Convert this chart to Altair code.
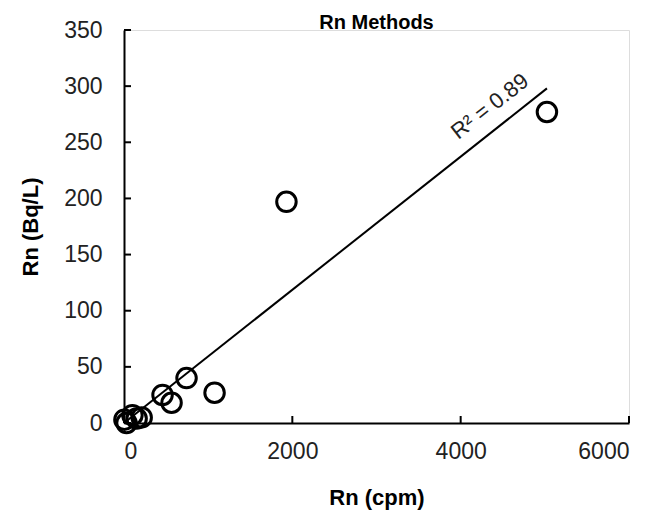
import altair as alt
import pandas as pd

# Data
cpm = [1930, 5025, 743, 458, 565, 1076, 5, 30, 100, 150, 210]
bql = [197, 277, 40, 25, 18, 27, 3, 0, 7, 4, 5]

trend_x = [0, 5025]
trend_y = [0, 298]

x_ticks = [0, 2000, 4000, 6000]
y_ticks = [0, 50, 100, 150, 200, 250, 300, 350]

label_x = [4347]
label_y = [282]
label_text = ["R² = 0.89"]

FONT = "Liberation Sans"

pts = pd.DataFrame({"x": cpm, "y": bql})
trend = pd.DataFrame({"x": trend_x, "y": trend_y})
xt = pd.DataFrame({"v": x_ticks})
yt = pd.DataFrame({"v": y_ticks})
lab = pd.DataFrame({"x": label_x, "y": label_y, "t": label_text})

xscale = alt.Scale(domain=[0, 6000], nice=False, zero=True)
yscale = alt.Scale(domain=[0, 350], nice=False, zero=True)

xaxis = alt.Axis(values=x_ticks, format="d", title="Rn (cpm)", grid=False, ticks=False,
                 labelPadding=17, titlePadding=24, domainColor="black",
                 domainWidth=2, labelFontSize=23, labelFont=FONT,
                 labelColor="#222", titleFont=FONT, titleFontSize=22,
                 titleFontWeight="bold", titleColor="black")
yaxis = alt.Axis(values=y_ticks, format="d", title="Rn (Bq/L)", grid=False, ticks=False,
                 labelPadding=22, titlePadding=21, domainColor="black",
                 domainWidth=2, labelFontSize=23, labelFont=FONT,
                 labelColor="#222", titleFont=FONT, titleFontSize=22,
                 titleFontWeight="bold", titleColor="black")

points = alt.Chart(pts).mark_point(
    shape="circle", filled=False, stroke="black", strokeWidth=3, size=380, opacity=1
).encode(
    x=alt.X("x:Q", scale=xscale, axis=xaxis),
    y=alt.Y("y:Q", scale=yscale, axis=yaxis),
)

line = alt.Chart(trend).mark_line(color="black", strokeWidth=2).encode(
    x=alt.X("x:Q", scale=xscale),
    y=alt.Y("y:Q", scale=yscale),
)

xtick_marks = alt.Chart(xt).mark_rule(color="black", strokeWidth=2).encode(
    x=alt.X("v:Q", scale=xscale),
    y=alt.value(386),
    y2=alt.value(393),
)

ytick_marks = alt.Chart(yt).mark_rule(color="black", strokeWidth=2).encode(
    y=alt.Y("v:Q", scale=yscale),
    x=alt.value(0),
    x2=alt.value(7),
)

text = alt.Chart(lab).mark_text(
    font=FONT, fontSize=22, angle=322, align="center", baseline="middle", color="#222"
).encode(
    x=alt.X("x:Q", scale=xscale),
    y=alt.Y("y:Q", scale=yscale),
    text="t:N",
)

chart = alt.layer(line, xtick_marks, ytick_marks, points, text).properties(
    width=505,
    height=393,
    title=alt.Title("Rn Methods", font=FONT, fontSize=20, fontWeight="bold",
                    color="black", offset=-14, anchor="middle"),
    autosize=alt.AutoSizeParams(type="none"),
    padding={"left": 124, "top": 30, "right": 28, "bottom": 93},
).configure_view(stroke=None).configure(background="white")

chart.save("out.html", embed_options={"renderer": "svg", "actions": False})
